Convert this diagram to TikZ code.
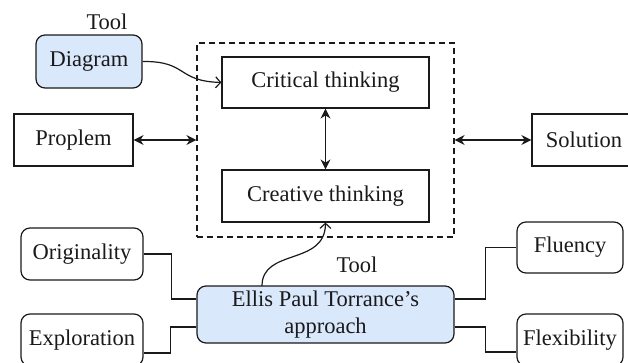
\documentclass[tikz,border=0pt]{standalone}
\usepackage{fontspec}
\setmainfont{Liberation Serif}
\usetikzlibrary{arrows.meta,calc}
\definecolor{toolblue}{HTML}{DAE8FC}
\definecolor{ink}{HTML}{1A1A1A}
\begin{document}
\begin{tikzpicture}[x=1pt,y=-1pt,
  every node/.style={font=\fontsize{22.5}{27}\selectfont, inner sep=0pt, align=center, text=ink},
  plainbox/.style={draw=ink, line width=1.2pt, fill=white},
  softbox/.style={plainbox, rounded corners=9pt},
  toolbox/.style={softbox, fill=toolblue},
  group/.style={draw=ink, line width=1.2pt, dashed, dash pattern=on 6pt off 4pt},
  link/.style={draw=ink, line width=1.2pt},
  both/.style={link, {Stealth[length=10pt,width=10pt]}-{Stealth[length=10pt,width=10pt]}},
  feed/.style={link, -{Straight Barb[length=5pt,width=11pt]}}
]
\useasboundingbox (0,0) rectangle (628,362);
\clip (0,0) rectangle (628,362);

% thinking group
\node[group, minimum width=257pt, minimum height=194pt] (think) at (325.5,140) {};
\node[plainbox, minimum width=207pt, minimum height=51pt] (crit) at (325.5,82.5) {Critical thinking};
\node[plainbox, minimum width=207pt, minimum height=52pt] (crea) at (325.5,196) {Creative thinking};

% problem and solution
\node[plainbox, minimum width=119pt, minimum height=52pt] (prob) at (73.5,140) {Proplem};
\node[plainbox, minimum width=104pt, minimum height=52pt] (sol) at (584,140) {Solution};

% tools
\node[toolbox, minimum width=106pt, minimum height=53pt] (diag) at (89,61.5) {Diagram};
\node (toolA) at (107,22) {Tool};
\node[toolbox, minimum width=257pt, minimum height=57pt] (ellis) at (325.5,314.5) {Ellis Paul Torrance’s\\approach};
\node (toolB) at (357,265) {Tool};

% Torrance criteria
\node[softbox, minimum width=122pt, minimum height=52pt] (orig) at (82,254) {Originality};
\node[softbox, minimum width=122pt, minimum height=52pt] (expl) at (82,340) {Exploration};
\node[softbox, minimum width=106pt, minimum height=51pt] (flu) at (570,247.5) {Fluency};
\node[softbox, minimum width=106pt, minimum height=52pt] (flex) at (570,340) {Flexibility};

% arrows
\draw[both] (prob.east) -- (think.west);
\draw[both] (think.east) -- (sol.west);
\draw[both] (crit.south) -- (crea.north);
\draw[feed] (diag.east) .. controls (188,61) and (176,81) .. (crit.west);
\draw[feed] (262,286) .. controls (262,248) and (325,266) .. (crea.south);

% criteria links
\draw[link] (orig.east) -- ++(28,0) |- ($(ellis.west)+(0,-15.5)$);
\draw[link] ($(ellis.west)+(0,12.5)$) -- ++(-26,0) |- ($(expl.east)+(0,13)$);
\draw[link] ($(ellis.east)+(0,-15.5)$) -- ++(31,0) |- (flu.west);
\draw[link] ($(ellis.east)+(0,12.5)$) -- ++(31,0) |- ($(flex.west)+(0,12)$);
\end{tikzpicture}
\end{document}
